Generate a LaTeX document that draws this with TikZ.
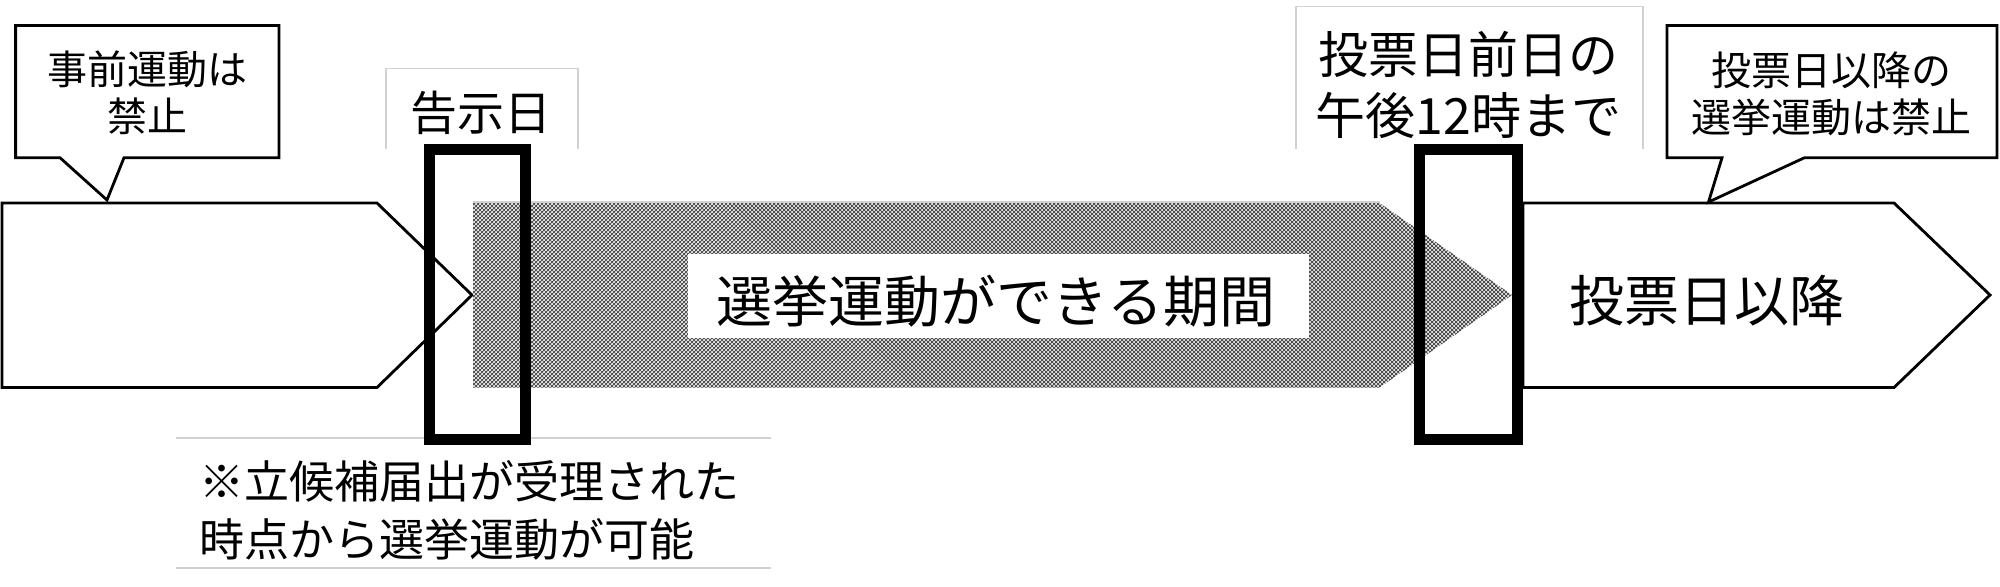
\documentclass[tikz,border=0pt]{standalone}
\usepackage{fontspec}
\setmainfont{Noto Sans CJK JP}
\usetikzlibrary{patterns}
\pgfdeclarepatternformonly{finecross}{\pgfqpoint{-0.1pt}{-0.1pt}}{\pgfqpoint{2.1pt}{2.1pt}}{\pgfqpoint{2pt}{2pt}}{%
  \pgfsetlinewidth{0.35pt}%
  \pgfpathmoveto{\pgfqpoint{0pt}{0pt}}\pgfpathlineto{\pgfqpoint{2pt}{2pt}}%
  \pgfpathmoveto{\pgfqpoint{0pt}{2pt}}\pgfpathlineto{\pgfqpoint{2pt}{0pt}}%
  \pgfusepath{stroke}}
\tikzset{
  outline/.style={draw=black, line width=1.4pt, line join=miter, fill=white},
  frame/.style={draw=black!18, line width=0.6pt},
  bar/.style={draw=black, line width=5.5pt},
  txt/.style={inner sep=0pt, align=center, text=black},
}
\begin{document}
\begin{tikzpicture}[x=0.5pt,y=-0.5pt]
\useasboundingbox (0,0) rectangle (2000,586);
\fill[white] (0,0) rectangle (2000,586);
% label frames
\draw[frame] (386,149) -- (386,68.4) -- (578,68.4) -- (578,149);
\draw[frame] (1296,149) -- (1296,6.7) -- (1643,6.7) -- (1643,149);
\draw[frame] (176,438) -- (770.5,438);
\draw[frame] (176,568) -- (770.5,568);
% left arrow
\draw[outline] (2,203) -- (377,203) -- (472,295) -- (377,387.5) -- (2,387.5) -- cycle;
% shaded arrow
\fill[gray!15] (473,203) -- (1379.5,203) -- (1512,295) -- (1379.5,387.5) -- (473,387.5) -- cycle;
\fill[pattern=finecross, pattern color=black!75] (473,203) -- (1379.5,203) -- (1512,295) -- (1379.5,387.5) -- (473,387.5) -- cycle;
\draw[frame] (473,202) -- (1379.5,202);
\fill[white] (688,254) rectangle (1308.5,338);
% right arrow
\draw[outline] (1523,203) -- (1894,203) -- (1990,295) -- (1894,387.5) -- (1523,387.5) -- cycle;
% callouts
\draw[outline] (15.6,25.4) -- (279,25.4) -- (279,157.7) -- (124,157.7) -- (107,200) -- (60,157.7) -- (15.6,157.7) -- cycle;
\draw[outline] (1667,25.4) -- (1997,25.4) -- (1997,157.7) -- (1804.5,157.7) -- (1708.5,202) -- (1722,157.7) -- (1667,157.7) -- cycle;
% thick bars
\draw[bar] (429,149) rectangle (525.5,439);
\draw[bar] (1419.5,149) rectangle (1517.5,439);
% texts
\node[txt, font=\fontsize{20}{23.5}\selectfont] (c1) at (147,93) {事前運動は\\禁止};
\node[txt, font=\fontsize{20}{23.5}\selectfont] (c2) at (1831,94) {投票日以降の\\選挙運動は禁止};
\node[txt, font=\fontsize{23.5}{28}\selectfont] (kokuji) at (481,113) {告示日};
\node[txt, font=\fontsize{25}{30.5}\selectfont] (zenjitsu) at (1468.5,85) {投票日前日の\\午後12時まで};
\node[txt, font=\fontsize{28}{32}\selectfont] (kikan) at (996,301) {選挙運動ができる期間};
\node[txt, font=\fontsize{27.5}{32}\selectfont] (ikou) at (1707,301) {投票日以降};
\node[txt, align=left, anchor=west, font=\fontsize{22.5}{29}\selectfont] (note) at (199,510) {※立候補届出が受理された\\時点から選挙運動が可能};
\end{tikzpicture}
\end{document}
